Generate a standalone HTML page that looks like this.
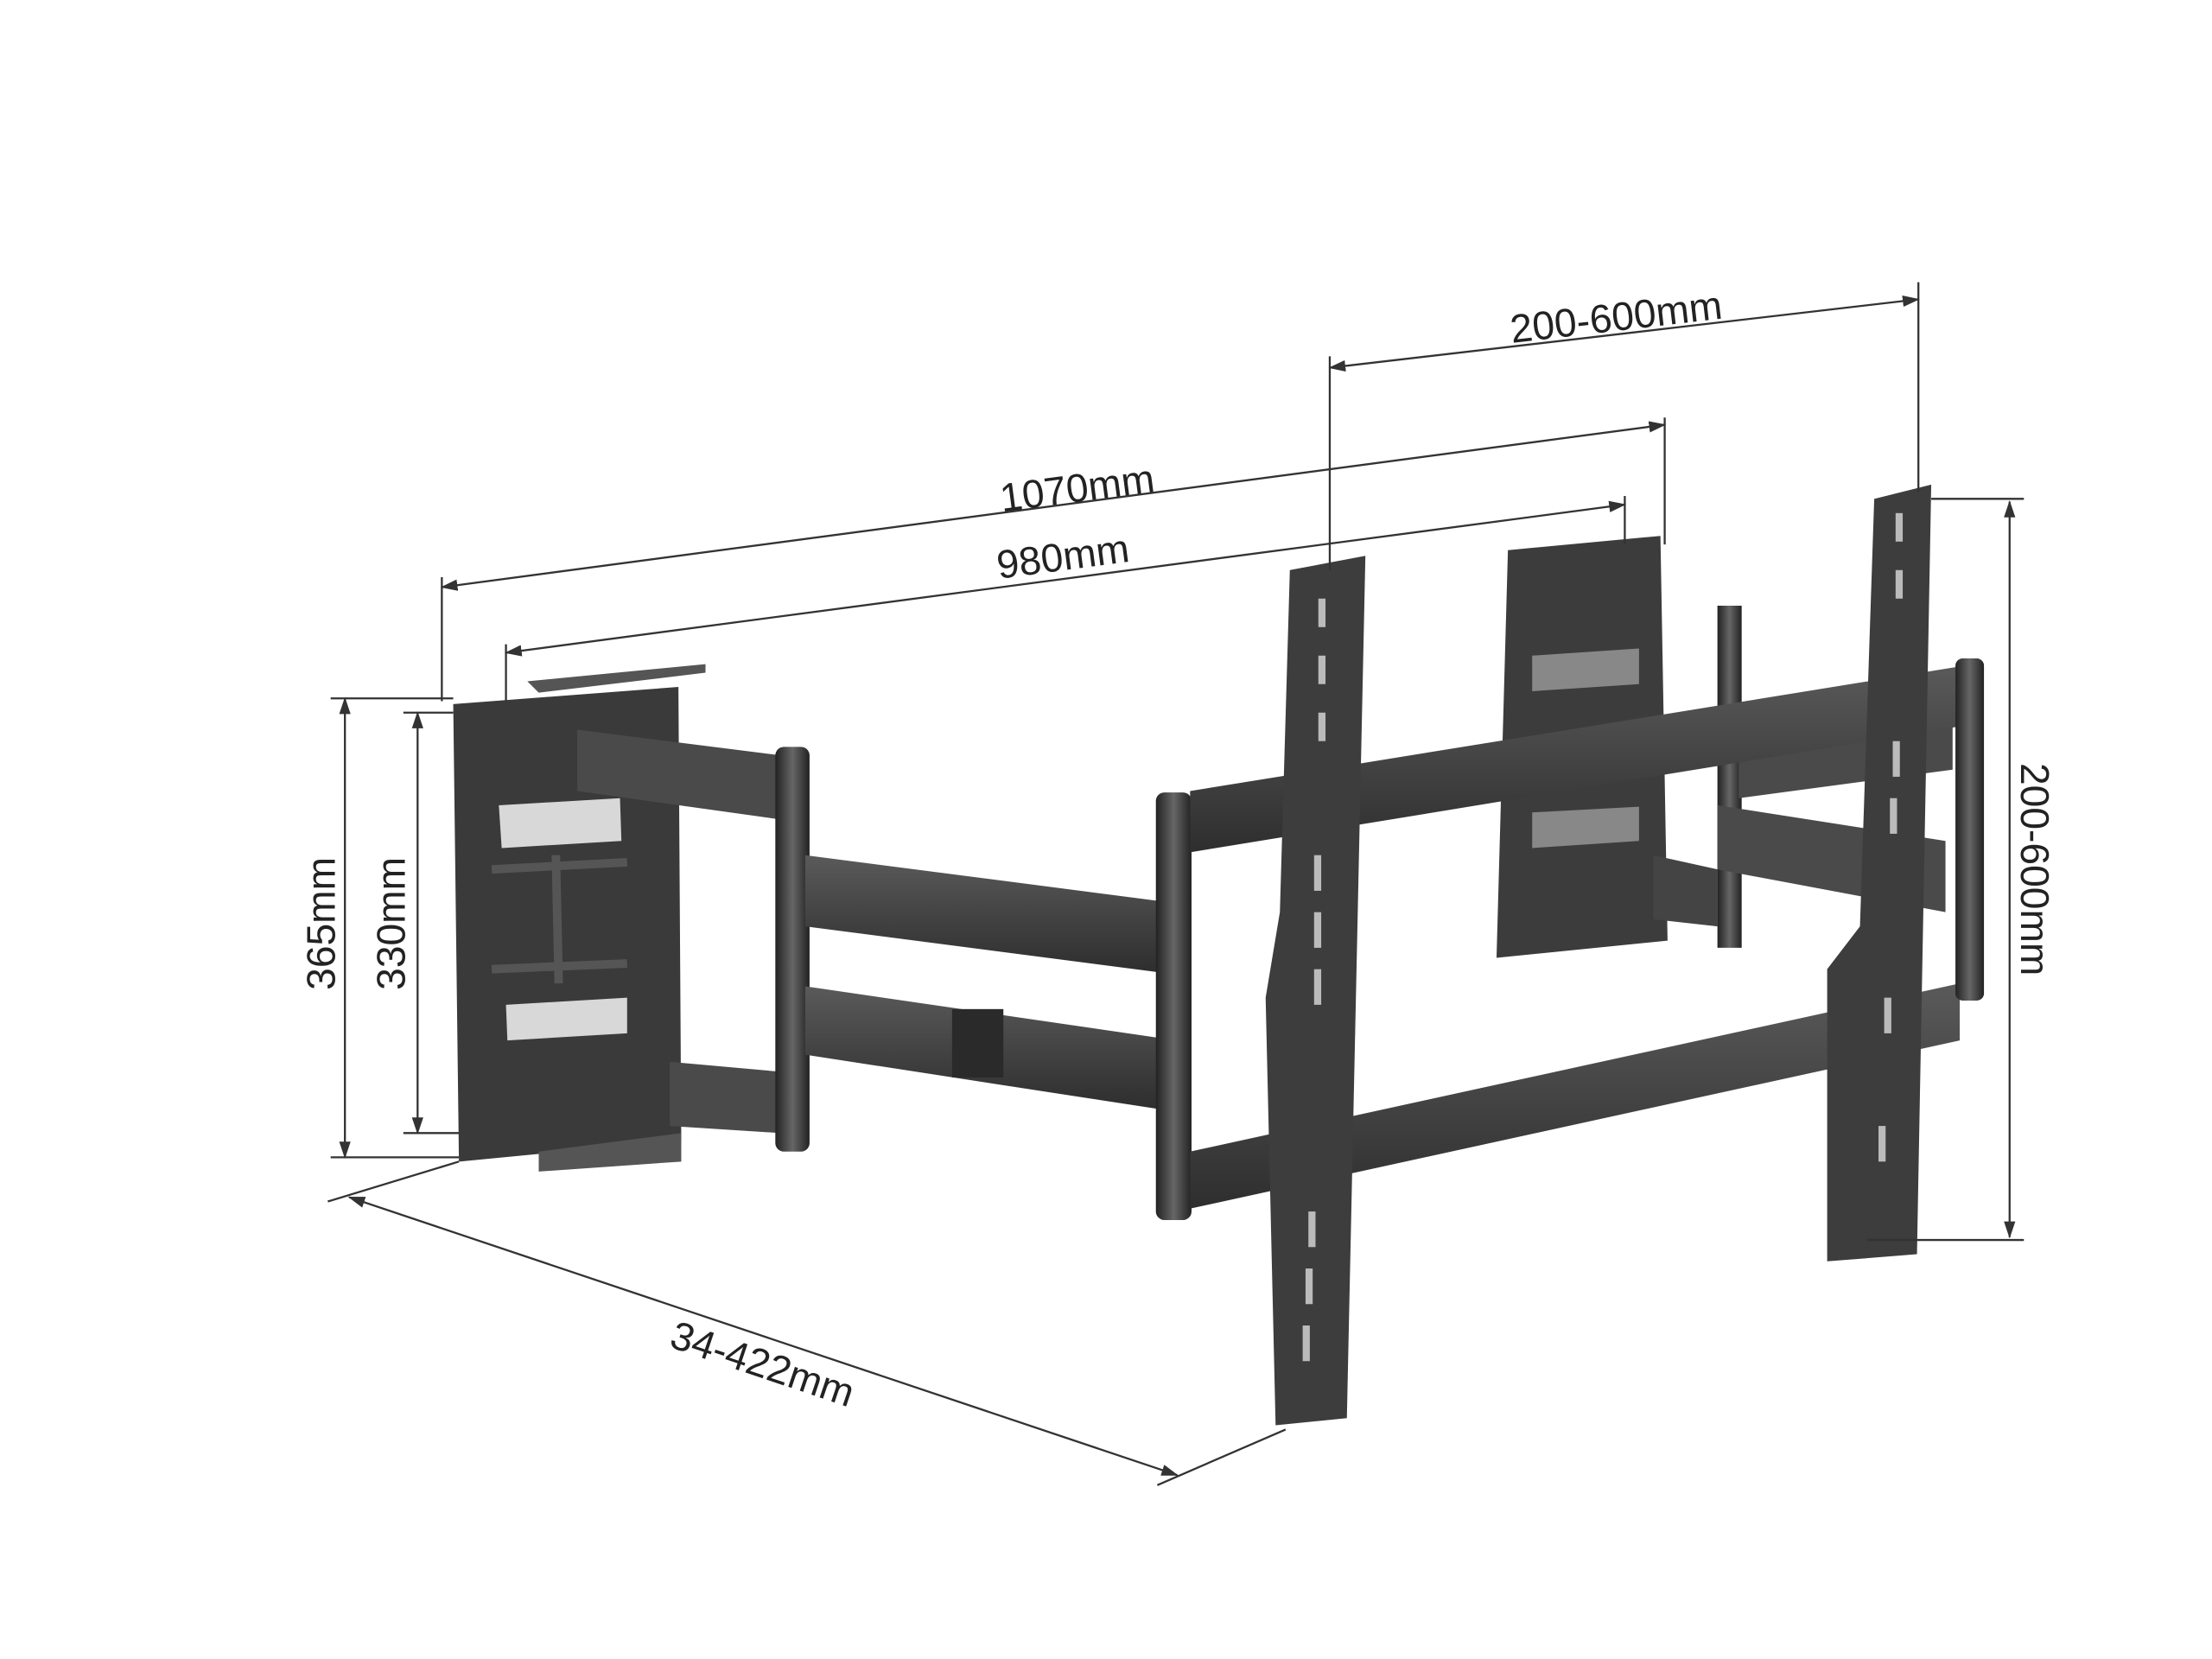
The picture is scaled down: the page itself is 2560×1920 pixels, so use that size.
<!DOCTYPE html>
<html><head><meta charset="utf-8"><style>
html,body{margin:0;padding:0;background:#fff;}
svg{display:block;}
text{font-family:"Liberation Sans",sans-serif;fill:#222;font-size:28px;}
</style></head><body>
<svg width="2560" height="1920" viewBox="0 0 1552 1164" xmlns="http://www.w3.org/2000/svg">
<defs>
<marker id="a" markerWidth="12" markerHeight="8" refX="11" refY="4" orient="auto-start-reverse" markerUnits="userSpaceOnUse"><path d="M0,0 L12,4 L0,8 z" fill="#333"/></marker>
<linearGradient id="g1" x1="0" y1="0" x2="0" y2="1"><stop offset="0" stop-color="#5a5a5a"/><stop offset="1" stop-color="#2e2e2e"/></linearGradient>
<linearGradient id="g2" x1="0" y1="0" x2="1" y2="0"><stop offset="0" stop-color="#222"/><stop offset=".5" stop-color="#666"/><stop offset="1" stop-color="#222"/></linearGradient>
</defs>
<rect width="1552" height="1164" fill="#fff"/>

<!-- right back wall plate -->
<polygon points="1058,386 1165,376 1170,660 1050,672" fill="#3c3c3c"/>
<polygon points="1075,460 1150,455 1150,480 1075,485" fill="#888"/>
<polygon points="1075,570 1150,566 1150,590 1075,595" fill="#888"/>
<!-- right arm stubs -->
<polygon points="1160,600 1205,610 1205,650 1160,645" fill="#444"/>
<polygon points="1205,425 1222,425 1222,665 1205,665" fill="url(#g2)"/>
<polygon points="1220,520 1370,500 1370,540 1220,560" fill="#4a4a4a"/>
<polygon points="1205,565 1365,590 1365,640 1205,610" fill="#4a4a4a"/>

<!-- left wall plate -->
<polygon points="318,494 476,482 478,800 322,815" fill="#3a3a3a"/>
<polygon points="370,478 495,466 495,472 378,486" fill="#555"/>
<polygon points="350,565 435,560 436,590 352,595" fill="#d8d8d8"/>
<polygon points="355,705 440,700 440,725 356,730" fill="#d8d8d8"/>
<path d="M345,610 L440,605 M345,680 L440,676 M390,600 L392,690" stroke="#555" stroke-width="6" fill="none"/>
<polygon points="378,808 478,795 478,815 378,822" fill="#555"/>
<!-- left arms -->
<polygon points="405,512 548,530 548,575 405,555" fill="#4a4a4a"/>
<polygon points="470,745 548,752 548,795 470,790" fill="#4a4a4a"/>
<rect x="544" y="524" width="24" height="284" rx="6" fill="url(#g2)"/>
<polygon points="565,600 812,632 812,682 565,650" fill="url(#g1)"/>
<polygon points="565,692 812,728 812,778 565,740" fill="url(#g1)"/>
<rect x="668" y="708" width="36" height="48" fill="#2a2a2a"/>
<rect x="811" y="556" width="25" height="300" rx="6" fill="url(#g2)"/>

<!-- long horizontal bars -->
<polygon points="835,555 1385,466 1385,508 835,598" fill="url(#g1)"/>
<polygon points="835,808 1375,690 1375,730 835,848" fill="url(#g1)"/>
<rect x="1372" y="462" width="20" height="240" rx="5" fill="url(#g2)"/>

<!-- vertical rails -->
<polygon points="905,400 958,390 945,995 895,1000 888,700 898,640" fill="#3d3d3d"/>
<g fill="#bbb">
<rect x="925" y="420" width="5" height="20"/><rect x="925" y="460" width="5" height="20"/><rect x="925" y="500" width="5" height="20"/>
<rect x="922" y="600" width="5" height="25"/><rect x="922" y="640" width="5" height="25"/><rect x="922" y="680" width="5" height="25"/>
<rect x="918" y="850" width="5" height="25"/><rect x="916" y="890" width="5" height="25"/><rect x="914" y="930" width="5" height="25"/>
</g>
<polygon points="1315,350 1355,340 1345,880 1282,885 1282,680 1305,650" fill="#3d3d3d"/>
<g fill="#bbb">
<rect x="1330" y="360" width="5" height="20"/><rect x="1330" y="400" width="5" height="20"/><rect x="1328" y="520" width="5" height="25"/>
<rect x="1326" y="560" width="5" height="25"/><rect x="1322" y="700" width="5" height="25"/><rect x="1318" y="790" width="5" height="25"/>
</g>

<!-- dimension lines -->
<g stroke="#333" stroke-width="1.4" fill="none">
<line x1="310" y1="405" x2="310" y2="492"/>
<line x1="355" y1="452" x2="355" y2="492"/>
<line x1="1168" y1="293" x2="1168" y2="382"/>
<line x1="1140" y1="348" x2="1140" y2="382"/>
<line x1="933" y1="250" x2="933" y2="400"/>
<line x1="1346" y1="198" x2="1346" y2="345"/>
<line x1="310" y1="412" x2="1168" y2="298" marker-start="url(#a)" marker-end="url(#a)"/>
<line x1="355" y1="458" x2="1140" y2="354" marker-start="url(#a)" marker-end="url(#a)"/>
<line x1="933" y1="258" x2="1346" y2="210" marker-start="url(#a)" marker-end="url(#a)"/>
<line x1="232" y1="490" x2="318" y2="490"/>
<line x1="232" y1="812" x2="322" y2="812"/>
<line x1="283" y1="500" x2="318" y2="500"/>
<line x1="283" y1="795" x2="322" y2="795"/>
<line x1="242" y1="490" x2="242" y2="812" marker-start="url(#a)" marker-end="url(#a)"/>
<line x1="293" y1="500" x2="293" y2="795" marker-start="url(#a)" marker-end="url(#a)"/>
<line x1="1355" y1="350" x2="1420" y2="350"/>
<line x1="1310" y1="870" x2="1420" y2="870"/>
<line x1="1410" y1="352" x2="1410" y2="868" marker-start="url(#a)" marker-end="url(#a)"/>
<line x1="230" y1="843" x2="322" y2="815"/>
<line x1="812" y1="1042" x2="902" y2="1003"/>
<line x1="245" y1="840" x2="826" y2="1035" marker-start="url(#a)" marker-end="url(#a)"/>
</g>
<text x="757" y="352" text-anchor="middle" transform="rotate(-7.5 757 352)">1070mm</text>
<text x="747" y="400" text-anchor="middle" transform="rotate(-7.5 747 400)">980mm</text>
<text x="1135" y="232" text-anchor="middle" transform="rotate(-6.6 1135 232)">200-600mm</text>
<text x="235" y="648" text-anchor="middle" transform="rotate(-90 235 648)">365mm</text>
<text x="284" y="648" text-anchor="middle" transform="rotate(-90 284 648)">330mm</text>
<text x="1418" y="610" text-anchor="middle" transform="rotate(90 1418 610)">200-600mm</text>
<text x="532" y="966" text-anchor="middle" transform="rotate(18.6 532 966)">34-422mm</text>
</svg>
</body></html>
